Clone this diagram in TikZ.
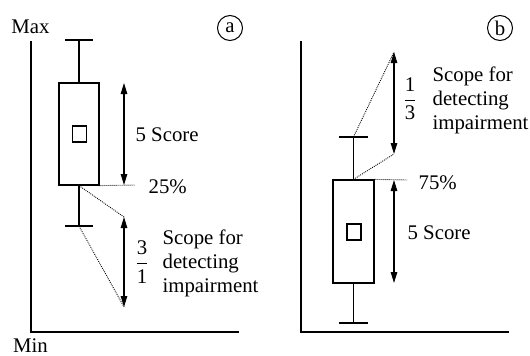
\documentclass[tikz,border=0pt]{standalone}
\usepackage{fontspec}
\setmainfont{Liberation Serif}
\usetikzlibrary{arrows.meta}
\begin{document}
\begin{tikzpicture}[x=1pt,y=-1pt,line width=1.2pt,
  lbl/.style={font=\fontsize{20.8}{24}\selectfont,inner sep=0pt},
  dimarrow/.style={{Triangle[length=11pt,width=6.5pt]}-{Triangle[length=11pt,width=6.5pt]},line width=1.2pt},
  dots/.style={dash pattern=on 0.9pt off 1.1pt,line width=0.9pt},
  boxs/.style={draw,line width=1.2pt,inner sep=0pt},
  circlbl/.style={draw,circle,line width=1pt,minimum size=25pt,inner sep=0pt,font=\fontsize{20.8}{24}\selectfont},
  ]
\useasboundingbox (0,0) rectangle (530,356);
% ---------- panel a ----------
\node[lbl] (amax) at (30.5,27) {Max};
\node[lbl] (amin) at (30.5,346) {Min};
\coordinate (aYtop) at (31,41);
\coordinate (aO) at (31,332);
\coordinate (aXend) at (239,332);
\draw (aYtop) -- (aO) -- (aXend);
\node[circlbl] (acirc) at (230,28) {a};
\node[boxs,minimum width=40pt,minimum height=102pt] (aBox) at (79,134) {};
\node[boxs,minimum width=14pt,minimum height=16pt] (aMed) at (79.5,134) {};
\coordinate (aCapT) at (79,40);
\coordinate (aCapB) at (79,226);
\draw (aBox.north) -- (aCapT);
\draw (aBox.south) -- (aCapB);
\draw ([xshift=-14pt]aCapT) -- ([xshift=14pt]aCapT);
\draw ([xshift=-14pt]aCapB) -- ([xshift=14pt]aCapB);
\coordinate (aA1) at (124,83);
\coordinate (aA2) at (124,185);
\draw[dimarrow] (aA1) -- (aA2);
\node[lbl,anchor=west] (aScore) at (135,135) {5 Score};
\coordinate (aDotEnd) at (135,185);
\draw[dots] (aBox.south east) -- (aDotEnd);
\node[lbl,anchor=west] (a25) at (148,187) {25\%};
\coordinate (aB1) at (124,217);
\coordinate (aB2) at (124,307);
\draw[dots] (aBox.south) -- (aB1);
\draw[dots] (aCapB) -- (aB2);
\draw[dimarrow] (aB1) -- (aB2);
\node[lbl] (aFrac) at (142,262) {$\displaystyle\frac{\mbox{3}}{\mbox{1}}$};
\node[lbl,anchor=west,align=left] (aScope) at (162,263) {Scope for\\detecting\\impairment};
% ---------- panel b ----------
\coordinate (bYtop) at (301,41);
\coordinate (bO) at (301,332);
\coordinate (bXend) at (509,332);
\draw (bYtop) -- (bO) -- (bXend);
\node[circlbl] (bcirc) at (500,28) {b};
\node[boxs,minimum width=41pt,minimum height=103pt] (bBox) at (353.5,231.5) {};
\node[boxs,minimum width=14pt,minimum height=16pt] (bMed) at (354,232) {};
\coordinate (bCapT) at (353.5,137);
\coordinate (bCapB) at (353.5,323);
\draw (bBox.north) -- (bCapT);
\draw (bBox.south) -- (bCapB);
\draw ([xshift=-14.5pt]bCapT) -- ([xshift=14.5pt]bCapT);
\draw ([xshift=-14.5pt]bCapB) -- ([xshift=14.5pt]bCapB);
\coordinate (bA1) at (394,180);
\coordinate (bA2) at (394,283);
\draw[dimarrow] (bA1) -- (bA2);
\node[lbl,anchor=west] (bScore) at (407,233) {5 Score};
\coordinate (bDotEnd) at (407,180);
\draw[dots] (bBox.north east) -- (bDotEnd);
\node[lbl,anchor=west] (b75) at (418,183) {75\%};
\coordinate (bB1) at (394,52);
\coordinate (bB2) at (394,154);
\draw[dots] (bBox.north) -- (bB2);
\draw[dots] (bCapT) -- (bB1);
\draw[dimarrow] (bB1) -- (bB2);
\node[lbl] (bFrac) at (410,99) {$\displaystyle\frac{\mbox{1}}{\mbox{3}}$};
\node[lbl,anchor=west,align=left] (bScope) at (432,100) {Scope for\\detecting\\impairment};
\end{tikzpicture}
\end{document}
